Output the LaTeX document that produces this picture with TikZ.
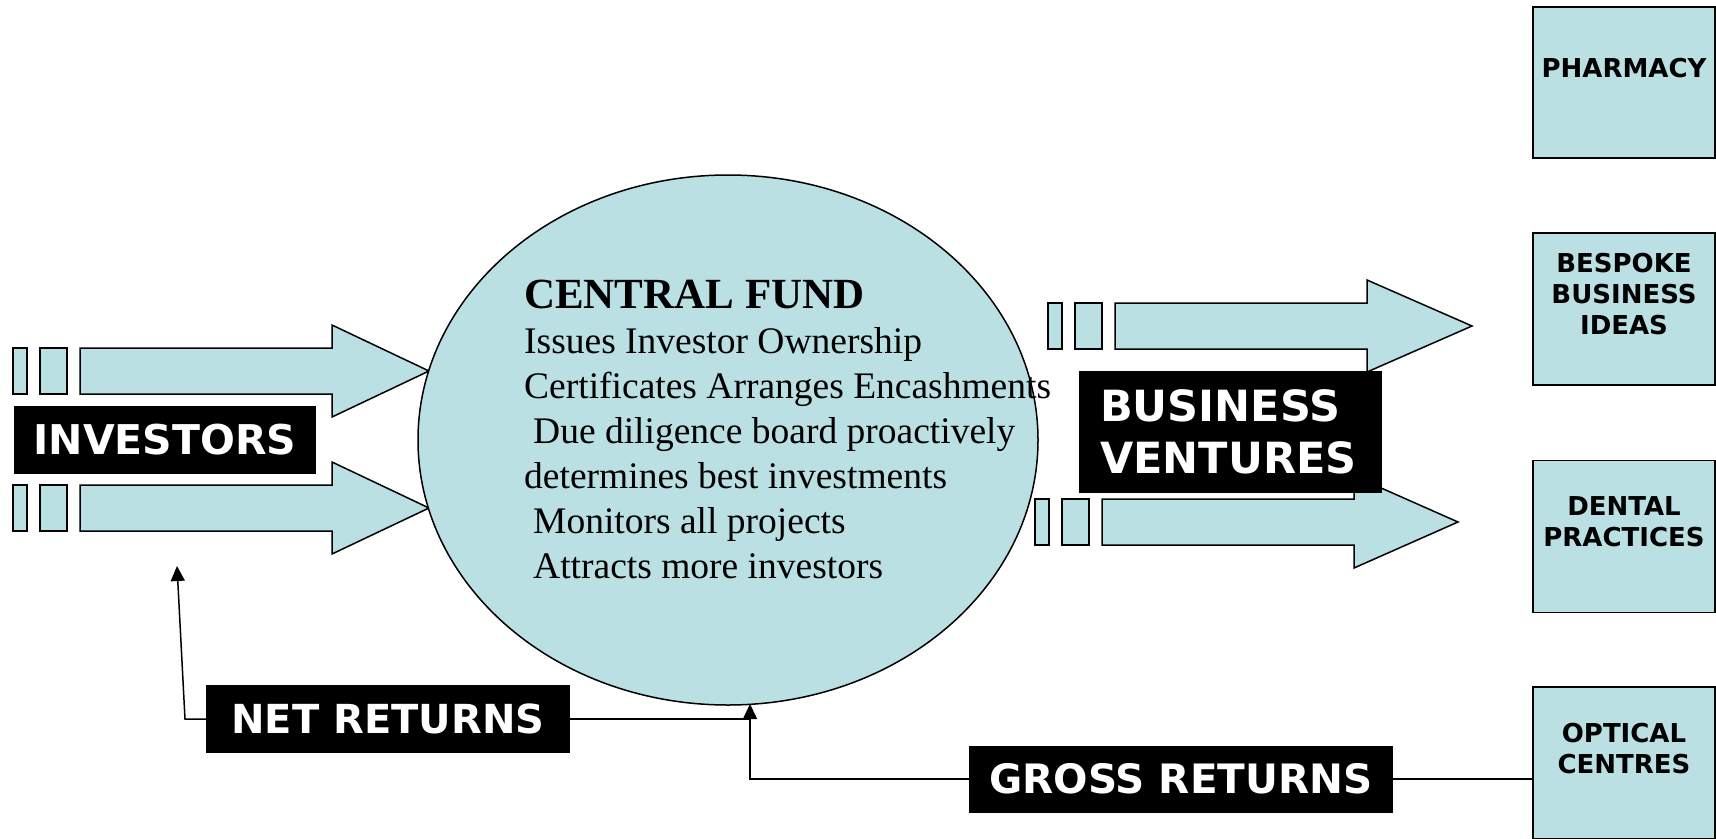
\documentclass[tikz,border=0pt]{standalone}
\usepackage{fontspec}
\setmainfont{Liberation Serif}
\newfontfamily\verdana{DejaVu Sans}
\usetikzlibrary{shapes.geometric, arrows.meta, positioning}
\definecolor{fundblue}{RGB}{186,224,227}

\begin{document}
\begin{tikzpicture}[x=1pt, y=-1pt,
        fund/.style={ellipse, draw, fill=fundblue, line width=1.5pt, minimum width=620pt, minimum height=530pt, inner sep=0pt},
        venture/.style={rectangle, draw, fill=fundblue, line width=1.5pt, minimum width=182pt, minimum height=152pt, inner sep=0pt},
        ventext/.style={align=center, inner sep=0pt, font=\verdana\bfseries\fontsize{26}{31}\selectfont},
        tagbox/.style={rectangle, fill=black, text=white, inner sep=0pt, align=center},
        fatarrow/.style={draw, fill=fundblue, line width=1.5pt, line join=miter},
        retline/.style={line width=1.5pt},
        retarrow/.style={-{Triangle[length=15pt, width=14pt]}}
    ]
        \useasboundingbox (0,0) rectangle (1716,838);

        % Block arrows (investors in, ventures out)
        \foreach \x/\y/\t in {13/371/429, 13/508/429, 1048/326/1472, 1035/522/1458} {
            \draw[fatarrow] (\x,\y-23) rectangle (\x+14,\y+23);
            \draw[fatarrow] (\x+27,\y-23) rectangle (\x+54,\y+23);
            \draw[fatarrow] (\x+67,\y-23) -- (\x+319,\y-23) -- (\x+319,\y-46) -- (\t,\y)
                -- (\x+319,\y+46) -- (\x+319,\y+23) -- (\x+67,\y+23) -- cycle;
        }

        % Central fund
        \node[fund] (fund) at (728,440) {};
        \node[anchor=north west, align=left, inner sep=0pt, font=\fontsize{37.5}{45}\selectfont] (fundtext) at (524,280)
            {{\bfseries\fontsize{43}{45}\selectfont CENTRAL FUND}\\
             Issues Investor Ownership\\
             Certificates Arranges Encashments\\
             \hspace*{9pt}Due diligence board proactively\\
             determines best investments\\
             \hspace*{9pt}Monitors all projects\\
             \hspace*{9pt}Attracts more investors};

        % Black labels
        \node[tagbox, minimum width=302pt, minimum height=68pt, font=\verdana\bfseries\fontsize{41}{45}\selectfont] (investors) at (165,440) {INVESTORS};
        \node[tagbox, anchor=north west, align=left, inner xsep=21pt, text width=261pt, minimum height=122pt, font=\verdana\bfseries\fontsize{43}{52}\selectfont] (ventures) at (1079,371) {BUSINESS\\VENTURES};
        \node[tagbox, minimum width=364pt, minimum height=68pt, font=\verdana\bfseries\fontsize{40}{45}\selectfont] (net) at (388,719) {NET RETURNS};
        \node[tagbox, minimum width=424pt, minimum height=67pt, font=\verdana\bfseries\fontsize{40.5}{45}\selectfont] (gross) at (1181,779) {GROSS RETURNS};

        % Businesses
        \node[venture, minimum height=151pt] (pharmacy) at (1624,82.5) {};
        \node[venture] (bespoke) at (1624,309) {};
        \node[venture] (dental) at (1624,536.5) {};
        \node[venture] (optical) at (1624,763) {};

        \node[ventext] (pharmacytext) at (1624,68) {PHARMACY};
        \node[ventext] (bespoketext) at (1624,294) {BESPOKE\\BUSINESS\\IDEAS};
        \node[ventext] (dentaltext) at (1624,521.5) {DENTAL\\PRACTICES};
        \node[ventext] (opticaltext) at (1624,748.5) {OPTICAL\\CENTRES};

        % Returns
        \coordinate (fundbase) at (750,704);
        \coordinate (netturn) at (185,719);
        \coordinate (investtip) at (177,566);
        \draw[retline] (optical.west |- gross.east) -- (gross.east);
        \draw[retline, retarrow] (gross.west) -| (fundbase);
        \draw[retline] (net.east) -- (net.east -| fundbase);
        \draw[retline, retarrow] (net.west) -- (netturn) -- (investtip);
    \end{tikzpicture}
\end{document}
